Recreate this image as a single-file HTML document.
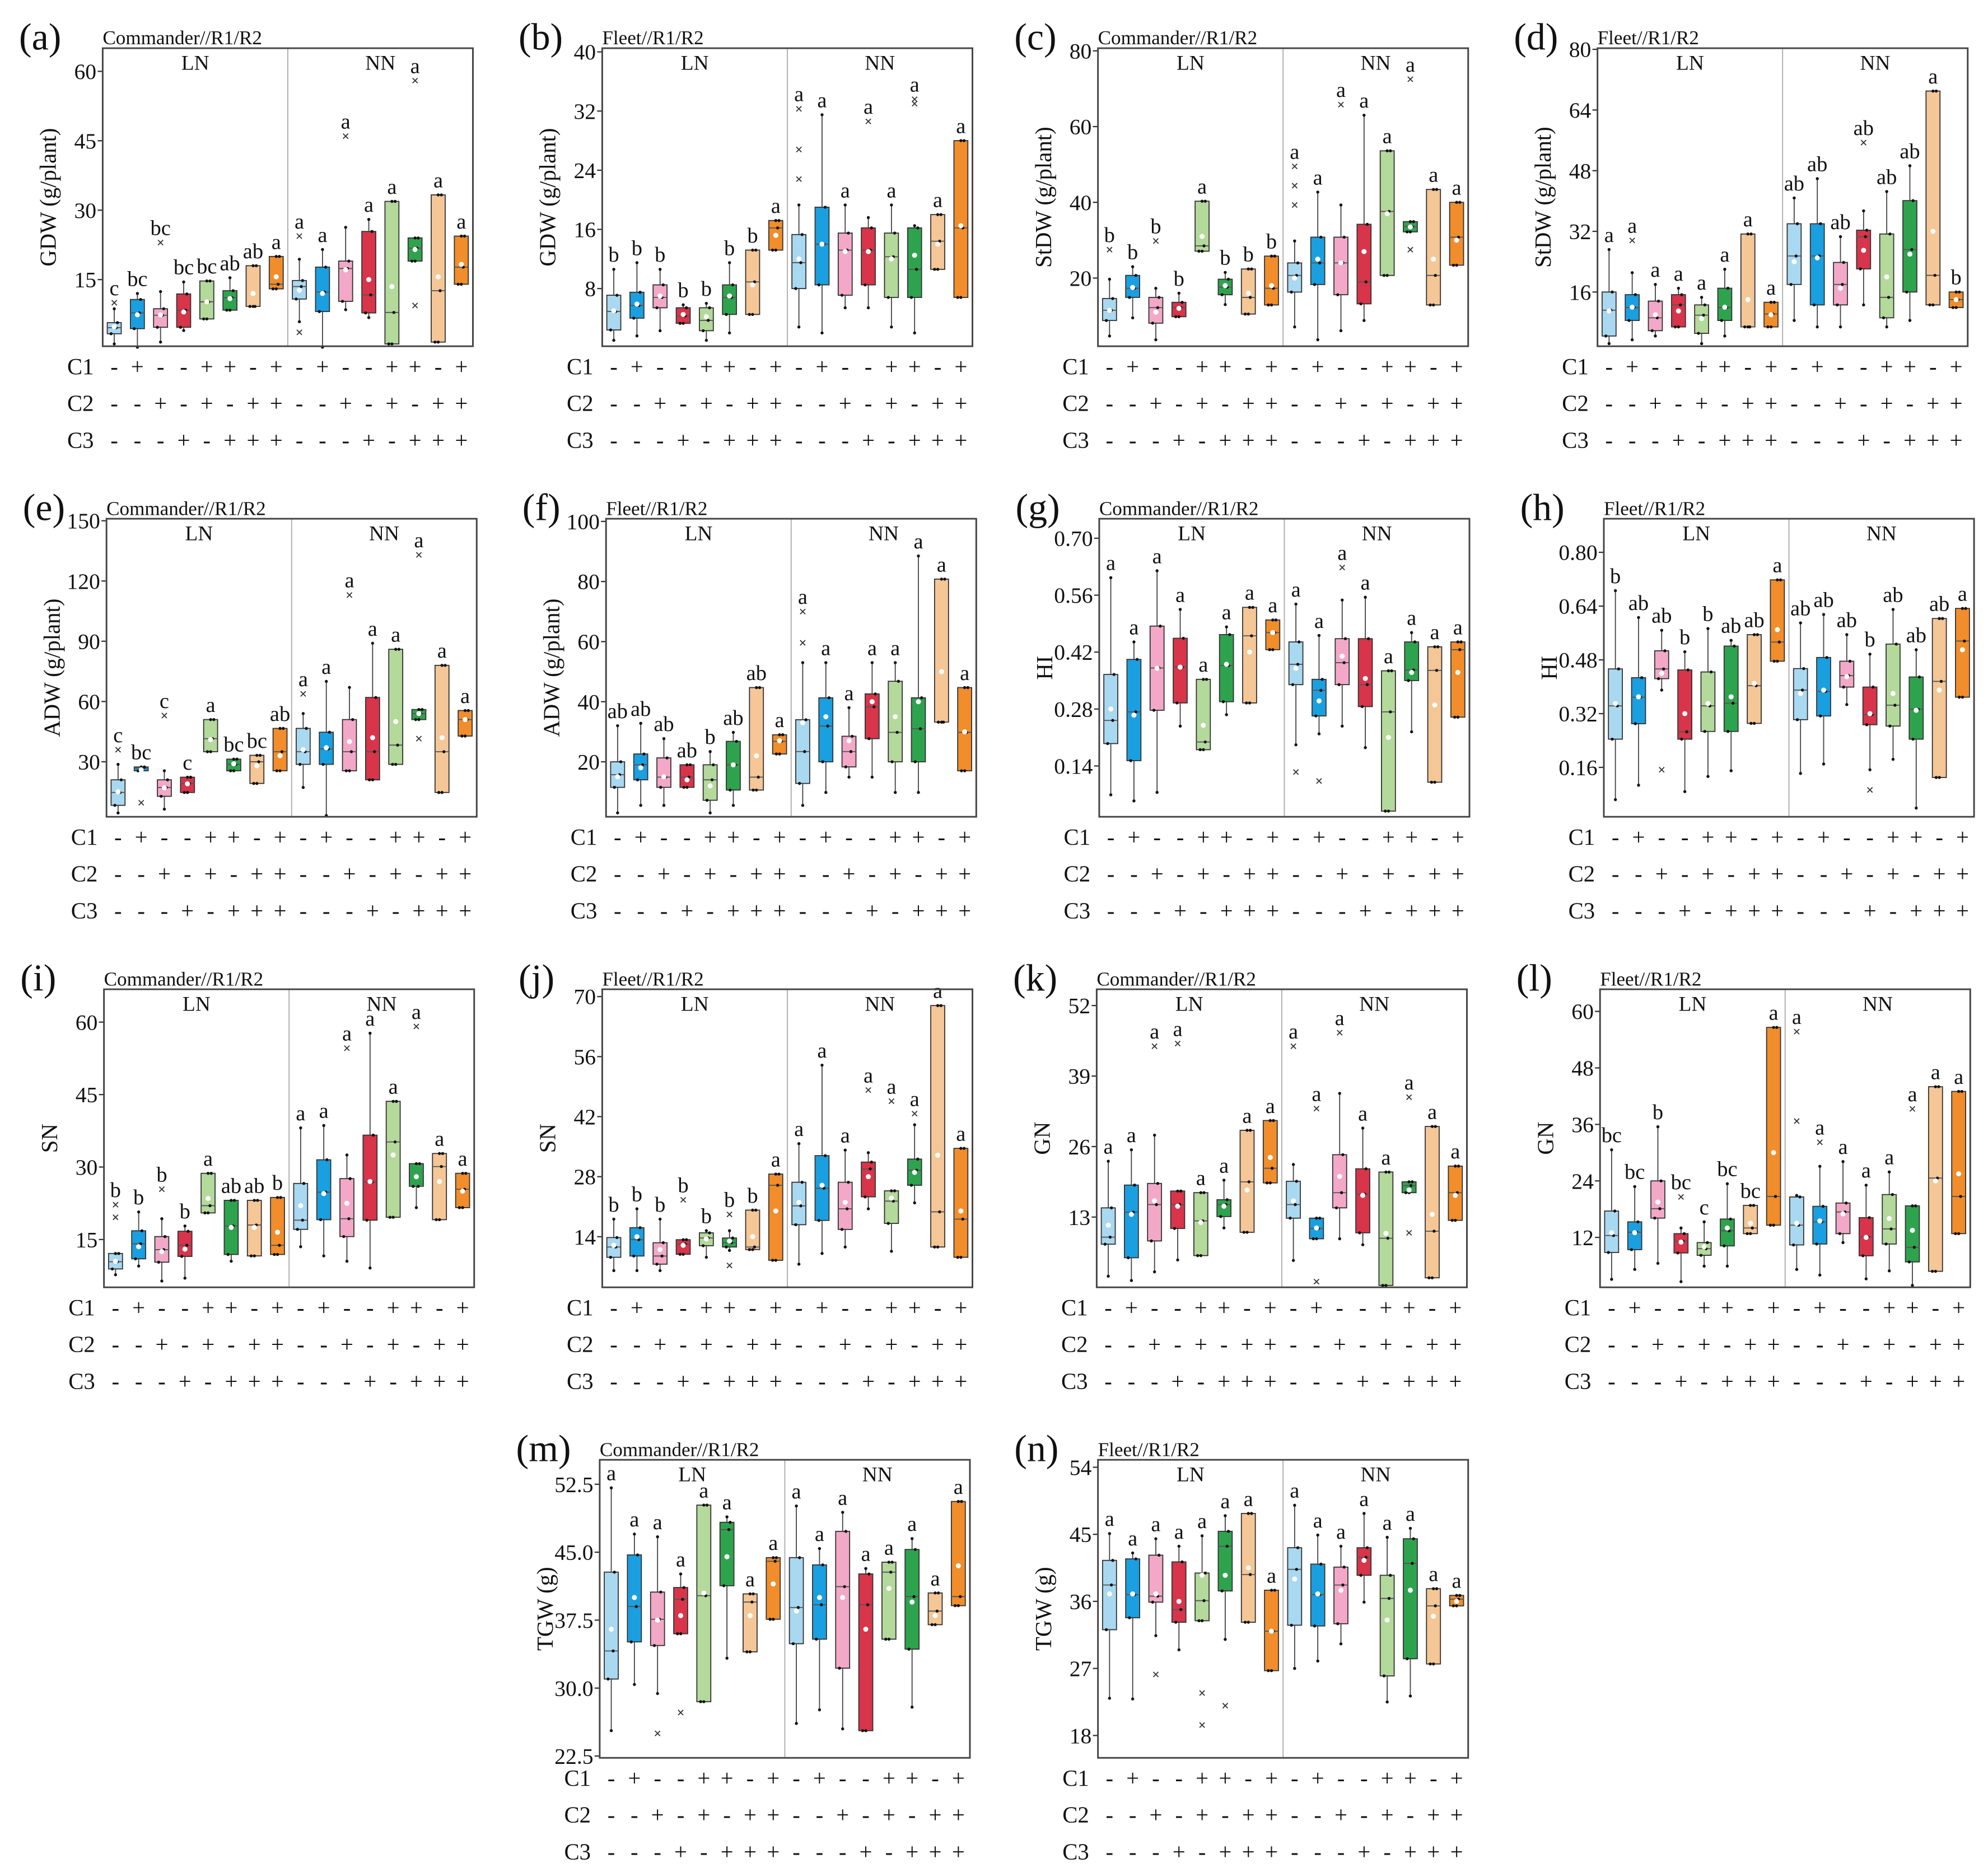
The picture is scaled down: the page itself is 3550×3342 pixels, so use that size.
<!DOCTYPE html>
<html><head><meta charset="utf-8"><title>Box plots</title>
<style>
html,body{margin:0;padding:0;background:#fff;}
svg{display:block;}
svg text{font-family:"Liberation Serif","DejaVu Serif",serif;}
</style></head>
<body>
<svg id="fig" xmlns="http://www.w3.org/2000/svg" width="3550" height="3342" viewBox="0 0 1568 1476" preserveAspectRatio="none" font-family="Liberation Serif, DejaVu Serif, serif"></svg>
<script>
const a_q1=[3.3,4.4,4.7,4.7,6.5,8.4,9.2,13,10.8,8.1,10.3,7.8,1.1,19,1.5,14];
const a_med=[4.6,7.8,7.3,8.4,10.2,11.1,9.2,14,13.5,12.3,17.4,11.7,7.9,21.8,12.6,17.7];
const a_q3=[5.7,10.7,8.7,11.9,14.7,12.6,18,20,14.8,17.7,19,25.4,31.9,24,33.3,24.4];
const a_lo=[1.1,0.4,1.5,4,6.5,8.4,9.2,13,5.9,0.4,8.5,6.8,1.1,19,1.5,14];
const a_hi=[8.7,12,12.4,14.5,14.7,15.4,18,20,19.4,21.5,26.3,28,31.9,24,33.3,24.4];
const a_mean=[4.8,7.4,7.4,8,10.2,10.9,12,15.6,12.7,12,17.1,15,13.5,21.5,15.6,18.3];
const a_let=["c","bc","bc","bc","bc","ab","ab","a","a","a","a","a","a","a","a","a"];
const a_out=[[10],[],[23],[],[],[],[],[],[24.4,3.6],[],[46],[],[],[58,9.4],[],[]];

const b_q1=[2.4,4,5.4,3.3,2.3,4.5,4.5,13.2,8,8.5,7.1,8.5,6.8,6.8,10.6,6.8];
const b_med=[4.9,5.7,6.8,4.3,3.7,6.8,8.9,16.2,11.5,14,13.2,13.2,12.3,10.6,14.4,16.2];
const b_q3=[7.1,7.5,8.5,5.4,5.4,8.5,13.2,17.2,15.3,19,15.5,16.2,15.5,16.2,18,28];
const b_lo=[1,1.6,2.3,3.3,1,2,4.5,13.2,2.8,2,5.4,5.4,2.8,2,10.6,6.8];
const b_hi=[10.6,11.5,10.6,5.8,6,11.5,13.2,17.2,19.3,31.5,19.3,17.6,19.3,16.5,18,28];
const b_mean=[5,5.9,7,4.5,4.2,7,8.5,15.2,12,14,13,13,12,12.5,14,16.5];
const b_let=["b","b","b","b","b","b","b","a","a","a","a","a","a","a","a","a"];
const b_out=[[],[],[],[],[],[],[],[],[22.8,26.8,32.3],[],[],[30.6],[],[33,33.6],[],[]];

const c_q1=[8.8,14.9,8.1,9.8,27.1,15.6,10.5,12.9,16.3,18.3,15.6,13.2,20.7,32.2,12.9,23.4];
const c_med=[11.5,17.3,12.2,12.2,28.5,17.6,14.9,17.3,20.7,24,24,19,37.6,33.6,20.7,30.8];
const c_q3=[14.6,20.7,14.9,13.6,40.3,19.7,22.4,25.8,24,30.8,30.8,34.2,53.6,34.9,43.4,40];
const c_lo=[4.7,9.5,3.7,9.8,27.1,13,10.5,12.9,7.1,3.7,6.1,8.8,20.7,32.2,12.9,23.4];
const c_hi=[19.7,23,17.3,16,40.3,21.5,22.4,25.8,29.8,42.7,39.3,63,53.6,34.9,43.4,40];
const c_mean=[11.5,17.5,11,12,31,18,16,18,20,25,24,27,37,33.5,25,30];
const c_let=["b","b","b","b","a","b","b","b","a","a","a","a","a","a","a","a"];
const c_out=[[27.5],[],[29.8],[],[],[],[],[],[49.5,44.4,39.3],[],[65.8],[],[],[72.5,27.5],[],[]];

const d_q1=[4.4,8.5,5.8,6.8,5.1,8.5,6.8,6.8,18,12.6,12.6,22.1,9.2,16,12.6,11.9];
const d_med=[11.2,11.9,9.2,12.6,9.9,11.9,6.8,10.2,25.5,25.5,18,30.6,14.6,27.2,20.4,14];
const d_q3=[16,15.3,13.6,15.3,12.6,17,31.3,13.3,34,34,23.8,32.3,31.3,40.1,69,16];
const d_lo=[2.4,3.4,4.4,6.8,2.4,4.4,6.8,6.8,8.5,6.8,6.8,12.6,6.8,8.5,12.6,11.9];
const d_hi=[27.2,21.1,18,17,14.6,22,31.3,13.3,40.8,45.9,30.6,37.4,42.5,49.3,69,16];
const d_mean=[11,12,10,11,9,12,14,10,24,25,17,27,20,26,32,14];
const d_let=["a","a","a","a","a","a","a","a","ab","ab","ab","ab","ab","ab","a","b"];
const d_out=[[],[29.6],[],[],[],[],[],[],[],[],[],[55.4],[],[],[],[]];

const e_q1=[8.3,25.5,12.8,14.7,35,25.5,19.2,25.5,28.7,28.7,25.5,21,28.7,51,14.7,42.8];
const e_med=[14.7,26.8,17.2,19.2,41.5,28.7,30,35,35,36.4,35,35,38.3,54,35,51];
const e_q3=[21,27.4,21,22.3,51,31.3,33.2,46.6,46.6,44.7,51,62,86,56,78,55.5];
const e_lo=[4.5,25.5,6.4,14.7,35,25.5,19.2,25.5,17.2,3.2,25.5,21,28.7,51,14.7,42.8];
const e_hi=[28.7,27.4,25.5,22.3,51,31.3,33.2,46.6,54,70,67,89,86,56,78,55.5];
const e_mean=[15,26,17,19,41,29,28,33,36,37,40,42,50,54,42,51];
const e_let=["c","bc","c","c","a","bc","bc","ab","a","a","a","a","a","a","a","a"];
const e_out=[[36],[9.6],[53],[],[],[],[],[],[63.8],[],[113],[],[],[133,41.5],[],[]];

const f_q1=[11.5,14,11.5,11.5,7.2,10.6,10.6,22.6,12.8,20,18.3,27.7,20,20,33.2,17];
const f_med=[15.7,19,14.9,14.9,14,19,14.9,26.8,23.4,31.9,23.4,38.3,29.8,31,33.2,29.8];
const f_q3=[20,22.6,21.3,19,19,26.8,44.7,29,34,41.3,28.5,42.6,46.8,41.3,80.8,44.7];
const f_lo=[3,5.5,5.5,11.5,3,5.5,10.6,22.6,5.5,9.8,14.9,14.9,9.8,9.8,33.2,17];
const f_hi=[32,32.8,27.7,19,23.4,29.8,44.7,29,53,53,38,53,53,88.5,80.8,44.7];
const f_mean=[15,18,15,14,12,19,22,27,33,35,27,40,35,40,50,30];
const f_let=["ab","ab","ab","ab","b","ab","ab","a","a","a","a","a","a","a","a","a"];
const f_out=[[],[],[],[],[],[],[],[],[59.6,70],[],[],[],[],[],[],[]];

const g_q1=[0.195,0.153,0.277,0.295,0.18,0.298,0.295,0.426,0.34,0.263,0.34,0.286,0.029,0.35,0.1,0.26];
const g_med=[0.252,0.273,0.381,0.383,0.199,0.387,0.46,0.468,0.39,0.326,0.394,0.34,0.273,0.376,0.375,0.426];
const g_q3=[0.365,0.402,0.484,0.454,0.353,0.463,0.53,0.499,0.445,0.353,0.453,0.453,0.374,0.445,0.433,0.445];
const g_lo=[0.069,0.054,0.075,0.238,0.18,0.266,0.295,0.426,0.192,0.219,0.238,0.185,0.029,0.224,0.1,0.26];
const g_hi=[0.603,0.445,0.62,0.525,0.353,0.482,0.53,0.499,0.538,0.461,0.548,0.555,0.374,0.468,0.433,0.445];
const g_mean=[0.28,0.265,0.38,0.383,0.24,0.39,0.42,0.468,0.38,0.3,0.41,0.355,0.21,0.37,0.29,0.37];
const g_let=["a","a","a","a","a","a","a","a","a","a","a","a","a","a","a","a"];
const g_out=[[],[],[],[],[],[],[],[],[0.125],[0.103],[0.628],[],[],[],[],[]];

const h_q1=[0.244,0.29,0.424,0.244,0.267,0.267,0.291,0.476,0.302,0.313,0.399,0.287,0.283,0.244,0.13,0.369];
const h_med=[0.343,0.369,0.453,0.266,0.343,0.351,0.403,0.533,0.39,0.386,0.433,0.317,0.345,0.333,0.416,0.536];
const h_q3=[0.453,0.427,0.507,0.45,0.444,0.521,0.555,0.718,0.454,0.487,0.476,0.399,0.527,0.429,0.603,0.633];
const h_lo=[0.064,0.107,0.39,0.088,0.133,0.15,0.291,0.476,0.142,0.17,0.347,0.153,0.184,0.039,0.13,0.369];
const h_hi=[0.686,0.606,0.568,0.504,0.573,0.538,0.555,0.718,0.59,0.615,0.555,0.497,0.63,0.51,0.603,0.633];
const h_mean=[0.35,0.37,0.44,0.32,0.35,0.37,0.41,0.57,0.38,0.39,0.43,0.32,0.38,0.33,0.39,0.51];
const h_let=["b","ab","ab","b","b","ab","ab","a","ab","ab","ab","b","ab","ab","ab","a"];
const h_out=[[],[],[0.153],[],[],[],[],[],[],[],[],[0.093],[],[],[],[]];

const i_q1=[8.9,11,10.3,11.5,20.5,11.9,11.6,11.9,17.1,19.1,15.6,19,19.6,26,19.1,21.6];
const i_med=[10.4,14.1,12.9,13.8,22,17.8,18,13.8,19,24.8,19.3,26.9,35.2,26,30.1,25.4];
const i_q3=[12.1,16.8,15.6,16.7,28.7,23.1,23.1,23.7,26.6,31.5,27.6,36.6,43.6,30.7,32.8,28.7];
const i_lo=[7.7,9.5,6.4,7,20.5,10.5,11.6,11.9,13.5,11.6,10.5,9.1,19.6,21.6,19.1,21.6];
const i_hi=[12.1,20.7,19.3,17.8,28.7,23.1,23.1,23.7,38.1,38.6,32.5,57.7,43.6,30.7,32.8,28.7];
const i_mean=[10.5,13.5,12.5,13,23.5,17.5,17.5,16.5,22,24.5,22.5,27,32.5,28,27,25];
const i_let=["b","b","b","b","a","ab","ab","b","a","a","a","a","a","a","a","a"];
const i_out=[[22.2,19.6],[],[25.4],[],[],[],[],[],[],[],[54.6],[],[],[59.1],[],[]];

const j_q1=[9.2,9.5,7.6,9.9,11.9,11.6,11,8.5,16.8,17.8,15.7,23.3,17.1,26,11.6,9.2];
const j_med=[11.6,13.3,9.5,12.3,13.7,12.6,11.6,26,21.2,25.3,20.5,29.8,22.3,29.5,19.8,18.1];
const j_q3=[13.8,16.1,12.6,13.3,14.9,13.7,20.2,28.6,26.7,32.9,26.7,31.4,24.7,32.1,67.9,34.6];
const j_lo=[6.1,6.1,6.1,9.9,9.2,10.8,11,8.5,7.6,10.1,11.6,20.5,10.6,21.9,11.6,9.2];
const j_hi=[18.1,20.5,18.1,13.3,15.4,15.4,20.2,28.6,35.7,54,34.2,33.6,24.7,40.1,67.9,34.6];
const j_mean=[12,14,11,12,13.5,13,14,20,22,26,22,28,23,29,33,20];
const j_let=["b","b","b","b","b","b","b","a","a","a","a","a","a","a","a","a"];
const j_out=[[],[],[],[22.6],[],[7.3,19.2],[],[],[],[],[],[48.2],[45.6],[42.7],[],[]];

const k_q1=[8,5.5,8.6,10.9,5.9,13.1,10.2,19.3,12.8,9,14.7,10.1,0.4,17.5,1.8,12.4];
const k_med=[9.3,13.9,15.3,15.3,12.3,15.3,19.5,22,15.3,10.9,17.5,17.2,9.1,18.8,10.4,17.5];
const k_q3=[14.7,18.9,19.2,17.8,17.5,16.2,29,30.8,19.6,12.8,24.5,21.9,21.3,19.5,29.7,22.4];
const k_lo=[2.1,1.3,2.9,5.1,5.9,11,10.2,19.3,5,9,9,7.9,0.4,17.5,1.8,12.4];
const k_hi=[23.3,25.4,28.1,17.8,17.5,19.8,29,30.8,22.7,12.8,35.8,29.4,21.3,19.5,29.7,22.4];
const k_mean=[11.5,13.5,16,15,12,15,18,24,16,11,20.5,17,10,18,13.5,17];
const k_let=["a","a","a","a","a","a","a","a","a","a","a","a","a","a","a","a"];
const k_out=[[],[],[44.5],[45],[],[],[],[],[44.5],[33,1.1],[47],[],[],[35.1,10.1],[],[]];

const l_q1=[8.8,9.4,16.1,8.7,8.2,10.2,12.8,14.6,10.4,10.6,12.8,8.1,10.6,6.8,4.8,12.8];
const l_med=[12.4,13.1,18.1,11.2,9.6,13.4,14,20.7,14.6,15.3,17.4,12.1,13.8,9.9,24.6,20.7];
const l_q3=[17.6,15.3,24,12.8,10.9,15.9,18.8,56.6,20.6,18.6,19.3,16.2,21.1,18.7,44,43];
const l_lo=[3.1,5.2,6.5,2.6,5.9,5.9,12.8,14.6,5.2,4,10.9,3.2,4.9,1.8,4.8,12.8];
const l_hi=[30.6,22.8,35.5,14,15.3,23.4,18.8,56.6,20.9,27.1,28.1,23.1,25.9,18.7,44,43];
const l_mean=[13,13,19.5,11,10,14,15,30,15,15.5,17,12,16,13.5,24,25.5];
const l_let=["bc","bc","b","bc","c","bc","bc","a","a","a","a","a","a","a","a","a"];
const l_out=[[],[],[],[20.6],[],[],[],[],[55.7,36.7],[32.2],[],[],[],[39.3],[],[]];

const m_q1=[31,35.1,34.7,36,28.5,41.3,34,37.6,34.9,35.4,32.2,25.3,35.4,34.3,37,39.1];
const m_med=[34.1,39,37.6,39.8,40.2,47.5,39.5,44,38.9,39.2,41.2,39.2,42.8,40.1,38.5,40.1];
const m_q3=[42.8,44.7,40.6,41.1,50.2,48.3,40.4,44.4,44.4,43.6,47.3,42.6,43.9,45.3,40.5,50.6];
const m_lo=[25.3,30.4,29.4,36,28.5,33.3,34,37.6,26.1,27.6,25.5,25.3,35.4,27.9,37,39.1];
const m_hi=[52.1,47,46.7,42.6,50.2,48.9,40.4,44.4,50.1,45.4,49.4,43.2,43.9,46.5,40.5,50.6];
const m_mean=[36.5,40,37.5,38,40.5,44.5,38,41.5,38.5,40,40,36.5,41,39.5,38,43.5];
const m_let=["a","a","a","a","a","a","a","a","a","a","a","a","a","a","a","a"];
const m_out=[[],[],[25],[27.3],[],[],[],[],[],[],[],[],[],[],[],[]];

const n_q1=[32.2,33.8,35.9,33.2,33.4,37.4,33.2,26.7,32.8,32.7,33,39.5,26,28.3,27.6,35.4];
const n_med=[38.2,36.9,36.7,34.9,36.1,43.4,39.6,32,40.3,36.9,38.2,41.9,36.4,41.1,35.4,36.3];
const n_q3=[41.5,41.7,42.2,41.3,39.8,45.4,47.8,37.5,43.2,41,40.6,43.2,39.5,44.4,37.7,36.8];
const n_lo=[23,22.9,31.4,29.5,33.4,30.9,33.2,26.7,27,28,30.3,35.9,22.5,23.3,27.6,35.4];
const n_hi=[45.1,42.5,44.4,43.4,44.8,47.5,47.8,37.5,48.9,44.9,43.4,47.8,44.6,45.8,37.7,36.8];
const n_mean=[37,37,37,36,39.5,39.5,40.5,32,39,37,37.5,41.5,33.5,37.5,34,36];
const n_let=["a","a","a","a","a","a","a","a","a","a","a","a","a","a","a","a"];
const n_out=[[],[],[26.2],[],[23.7,19.4],[22],[],[],[],[],[],[],[],[],[],[]];

const C1=["-","+","-","-","+","+","-","+","-","+","-","-","+","+","-","+"];
const C2=["-","-","+","-","+","-","+","+","-","-","+","-","+","-","+","+"];
const C3=["-","-","-","+","-","+","+","+","-","-","-","+","-","+","+","+"];
const COLORS=["#a9d8f1","#1a9fe0","#f3a8c8","#d8344a","#b3d99b","#2ea34e","#f5c696","#f18d2a"];

const W=292,H=235;
const FF='"Liberation Serif","DejaVu Serif",serif';
const panels=[
 {id:"a",x:81,y:38,t:"Commander//R1/R2",yl:"GDW (g/plant)",lim:[0.6,65],ticks:[15,30,45,60],dec:0,d:[a_q1,a_med,a_q3,a_lo,a_hi,a_mean,a_let,a_out]},
 {id:"b",x:475,y:38,t:"Fleet//R1/R2",yl:"GDW (g/plant)",lim:[0.2,40.5],ticks:[8,16,24,32,40],dec:0,d:[b_q1,b_med,b_q3,b_lo,b_hi,b_mean,b_let,b_out]},
 {id:"c",x:866,y:38,t:"Commander//R1/R2",yl:"StDW (g/plant)",lim:[2,80.7],ticks:[20,40,60,80],dec:0,d:[c_q1,c_med,c_q3,c_lo,c_hi,c_mean,c_let,c_out]},
 {id:"d",x:1260,y:38,t:"Fleet//R1/R2",yl:"StDW (g/plant)",lim:[1.7,80.3],ticks:[16,32,48,64,80],dec:0,d:[d_q1,d_med,d_q3,d_lo,d_hi,d_mean,d_let,d_out]},
 {id:"e",x:84,y:409,t:"Commander//R1/R2",yl:"ADW (g/plant)",lim:[2.6,151],ticks:[30,60,90,120,150],dec:0,d:[e_q1,e_med,e_q3,e_lo,e_hi,e_mean,e_let,e_out]},
 {id:"f",x:478,y:409,t:"Fleet//R1/R2",yl:"ADW (g/plant)",lim:[1.7,100.9],ticks:[20,40,60,80,100],dec:0,d:[f_q1,f_med,f_q3,f_lo,f_hi,f_mean,f_let,f_out]},
 {id:"g",x:867,y:409,t:"Commander//R1/R2",yl:"HI",lim:[0.015,0.748],ticks:[0.14,0.28,0.42,0.56,0.70],dec:2,d:[g_q1,g_med,g_q3,g_lo,g_hi,g_mean,g_let,g_out]},
 {id:"h",x:1265,y:409,t:"Fleet//R1/R2",yl:"HI",lim:[0.013,0.90],ticks:[0.16,0.32,0.48,0.64,0.80],dec:2,d:[h_q1,h_med,h_q3,h_lo,h_hi,h_mean,h_let,h_out]},
 {id:"i",x:82,y:780,t:"Commander//R1/R2",yl:"SN",lim:[5.1,66.8],ticks:[15,30,45,60],dec:0,d:[i_q1,i_med,i_q3,i_lo,i_hi,i_mean,i_let,i_out]},
 {id:"j",x:475,y:780,t:"Fleet//R1/R2",yl:"SN",lim:[2.2,71.7],ticks:[14,28,42,56,70],dec:0,d:[j_q1,j_med,j_q3,j_lo,j_hi,j_mean,j_let,j_out]},
 {id:"k",x:865,y:780,t:"Commander//R1/R2",yl:"GN",lim:[0.05,55],ticks:[13,26,39,52],dec:0,d:[k_q1,k_med,k_q3,k_lo,k_hi,k_mean,k_let,k_out]},
 {id:"l",x:1262,y:780,t:"Fleet//R1/R2",yl:"GN",lim:[1.4,64.7],ticks:[12,24,36,48,60],dec:0,d:[l_q1,l_med,l_q3,l_lo,l_hi,l_mean,l_let,l_out]},
 {id:"m",x:473,y:1151,t:"Commander//R1/R2",yl:"TGW (g)",lim:[22.3,55.2],ticks:[22.5,30,37.5,45,52.5],dec:1,d:[m_q1,m_med,m_q3,m_lo,m_hi,m_mean,m_let,m_out]},
 {id:"n",x:866,y:1151,t:"Fleet//R1/R2",yl:"TGW (g)",lim:[15,55],ticks:[18,27,36,45,54],dec:0,d:[n_q1,n_med,n_q3,n_lo,n_hi,n_mean,n_let,n_out]}
];

const NS="http://www.w3.org/2000/svg";
const svg=document.getElementById("fig");
function mk(tag,attrs,parent){const e=document.createElementNS(NS,tag);for(const k in attrs)e.setAttribute(k,attrs[k]);(parent||svg).appendChild(e);return e;}
function txt(s,attrs,parent){attrs["font-family"]=FF;const e=mk("text",attrs,parent);e.textContent=s;return e;}

panels.forEach(P=>{
  const [q1,med,q3,lo,hi,mean,lets,outs]=P.d;
  const g=mk("g",{});
  
  
  const xs=i=>P.x+W*(i+0.5)/16;
  const ys=v=>P.y+H-(v-P.lim[0])/(P.lim[1]-P.lim[0])*H;
  const pl=txt("("+P.id+")",{x:P.x-66,y:P.y+1,"font-size":30,fill:"#111"},g);
  
  
  const tt=txt(P.t,{x:P.x,y:P.y-3,"font-size":15.5,fill:"#111"},g);
  
  
  const dv=mk("line",{x1:P.x+W/2,x2:P.x+W/2,y1:P.y,y2:P.y+H,stroke:"#aaa","stroke-width":0.8},g);
  
  
  const ln=txt("LN",{x:P.x+W/4,y:P.y+17,"font-size":16.5,"text-anchor":"middle",fill:"#111"},g);
  
  
  const nn=txt("NN",{x:P.x+3*W/4,y:P.y+17,"font-size":16.5,"text-anchor":"middle",fill:"#111"},g);
  
  
  P.ticks.forEach(t=>{
    const y=ys(t);
    const tk=mk("line",{x1:P.x-4,x2:P.x,y1:y,y2:y,stroke:"#333","stroke-width":1},g);
    
    
    const tl=txt(t.toFixed(P.dec),{x:P.x-5,y:y+6,"font-size":17.5,"text-anchor":"end",fill:"#111"},g);
    
    
  });
  const yx=P.x-37, yy=P.y+H/2;
  const ylab=txt(P.yl,{x:yx,y:yy,"font-size":18,"text-anchor":"middle",transform:"rotate(-90 "+yx+" "+yy+")",fill:"#111"},g);
  
  
  const bw=11;
  for(let i=0;i<16;i++){
    const x=xs(i), col=COLORS[i%8];
    const bg=mk("g",{},g);
    
    
    mk("line",{x1:x,x2:x,y1:ys(lo[i]),y2:ys(hi[i]),stroke:"#444","stroke-width":0.8},bg);
    const top=ys(q3[i]), bot=ys(q1[i]);
    mk("rect",{x:x-bw/2,y:top,width:bw,height:Math.max(1,bot-top),fill:col,stroke:"#333","stroke-width":0.8},bg);
    mk("line",{x1:x-bw/2,x2:x+bw/2,y1:ys(med[i]),y2:ys(med[i]),stroke:"#555","stroke-width":0.8},bg);
    const pts=[lo[i],q1[i],med[i],q3[i],hi[i]], off=[0,-2.5,1.5,2.5,0];
    pts.forEach((v,k)=>mk("circle",{cx:x+off[k],cy:ys(v),r:1.2,fill:"#111"},bg));
    mk("circle",{cx:x,cy:ys(mean[i]),r:2,fill:"#fff"},bg);
    let mx=hi[i];
    outs[i].forEach(o=>{
      const oy=ys(o);
      mk("path",{d:`M${x-2} ${oy-2}L${x+2} ${oy+2}M${x-2} ${oy+2}L${x+2} ${oy-2}`,stroke:"#333","stroke-width":0.8,fill:"none"},bg);
      if(o>mx)mx=o;
    });
    const lt=txt(lets[i],{x:x,y:ys(mx)-6,"font-size":17,"text-anchor":"middle",fill:"#111"},g);
    
    
  }
  const fr=mk("rect",{x:P.x,y:P.y,width:W,height:H,fill:"none",stroke:"#444","stroke-width":1.3},g);
  
  
  [["C1",C1,16],["C2",C2,45],["C3",C3,74]].forEach(([nm,arr,dy])=>{
    const by=P.y+H+dy+6;
    const rl=txt(nm,{x:P.x-28,y:by,"font-size":18,fill:"#111"},g);
    
    
    arr.forEach((s,i)=>{
      const st=txt(s,{x:xs(i),y:by,"font-size":18,"text-anchor":"middle",fill:"#111"},g);
      
      
    });
  });
});
</script>
</body></html>
